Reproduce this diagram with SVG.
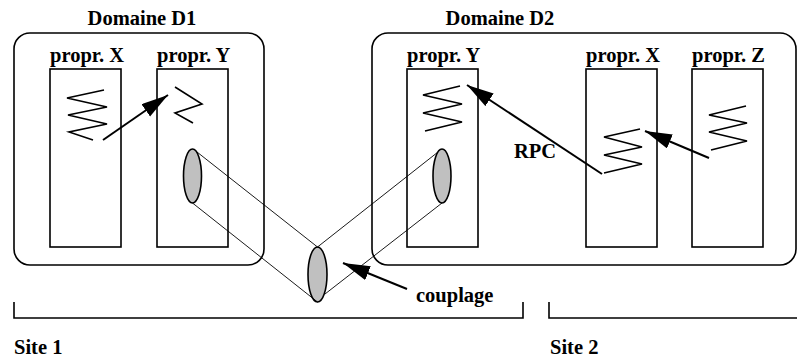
<svg xmlns="http://www.w3.org/2000/svg" width="797" height="360" viewBox="0 0 797 360">
<style>
.t{font-family:"Liberation Serif","Times New Roman",serif;font-weight:bold;font-size:20.5px;fill:#000}
.box{fill:none;stroke:#000;stroke-width:1.6}
.zz{fill:none;stroke:#000;stroke-width:1.6;stroke-linejoin:miter}
.arr{fill:none;stroke:#000;stroke-width:2}
.tan{fill:none;stroke:#000;stroke-width:0.9}
.ell{fill:#c0c0c0;stroke:#000;stroke-width:1.6}
</style>
<defs>
<marker id="ah" markerUnits="userSpaceOnUse" markerWidth="28" markerHeight="16" refX="27" refY="7.5" orient="auto">
<path d="M0,0 L27,7.5 L0,15 z" fill="#000"/>
</marker>
</defs>
<rect width="797" height="360" fill="#fff"/>
<g id="domaine-d1">
<rect class="box" x="14" y="33" width="250" height="232" rx="16"/>
<text class="t" x="142" y="25" text-anchor="middle">Domaine D1</text>
</g>
<g id="domaine-d2">
<rect class="box" x="372" y="33" width="424" height="232" rx="16"/>
<text class="t" x="500" y="25" text-anchor="middle">Domaine D2</text>
</g>
<g id="d1-propr-x">
<rect class="box" x="50" y="69" width="71" height="178"/>
<text class="t" x="50" y="62">propr. X</text>
<polyline class="zz" points="104,90 67,98 107,107 68,115 107,124 69,132 93,140"/>
</g>
<g id="d1-propr-y">
<rect class="box" x="157" y="69" width="71" height="178"/>
<text class="t" x="157" y="62">propr. Y</text>
<polyline class="zz" points="175,87 202,104 175,113 193,123"/>
<ellipse class="ell" cx="192.5" cy="176" rx="9" ry="27"/>
</g>
<g id="d2-propr-y">
<rect class="box" x="407" y="69" width="71" height="178"/>
<text class="t" x="407" y="62">propr. Y</text>
<polyline class="zz" points="460,86 423,95 462,104 423,113 462,122 425,131"/>
<ellipse class="ell" cx="442" cy="176" rx="9" ry="27"/>
</g>
<g id="d2-propr-x">
<rect class="box" x="586" y="69" width="71" height="178"/>
<text class="t" x="586" y="62">propr. X</text>
<polyline class="zz" points="640,129 604,137 642,147 604,155 642,164 604,173"/>
</g>
<g id="d2-propr-z">
<rect class="box" x="692" y="69" width="71" height="178"/>
<text class="t" x="692" y="62">propr. Z</text>
<polyline class="zz" points="746,106 709,115 747,123 709,132 747,141 711,150"/>
</g>
<g id="coupling">
<ellipse class="ell" cx="317.5" cy="274.5" rx="9.5" ry="27.5"/>
</g>
<g id="connectors">
<line class="tan" x1="197" y1="152" x2="317.5" y2="247"/>
<line class="tan" x1="192.5" y1="203" x2="317.5" y2="302"/>
<line class="tan" x1="317.5" y1="247" x2="438" y2="152"/>
<line class="tan" x1="325" y1="294" x2="442" y2="203"/>
<line class="arr" x1="103" y1="140" x2="168" y2="95" marker-end="url(#ah)"/>
<line class="arr" x1="602" y1="174" x2="467" y2="85" marker-end="url(#ah)"/>
<line class="arr" x1="709" y1="158" x2="645" y2="131" marker-end="url(#ah)"/>
<line class="arr" x1="407" y1="289" x2="343" y2="263" marker-end="url(#ah)"/>
</g>
<g id="labels">
<text class="t" x="514" y="158">RPC</text>
<text class="t" x="416" y="302">couplage</text>
</g>
<g id="site-1">
<polyline class="box" points="14,302 14,318 523,318 523,302"/>
<text class="t" x="14" y="354">Site 1</text>
</g>
<g id="site-2">
<polyline class="box" points="549,302 549,318 797,318"/>
<text class="t" x="550" y="354">Site 2</text>
</g>
</svg>
